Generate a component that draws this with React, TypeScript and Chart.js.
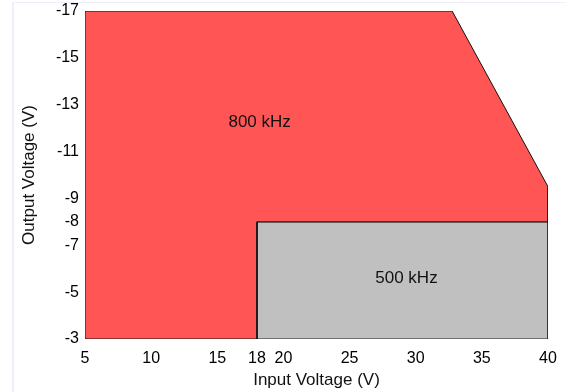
import React, { useEffect, useRef } from "react";
import { Chart, registerables } from "chart.js";

Chart.register(...registerables);

// Region polygons (Input Voltage, Output Voltage)
const region800X = [5, 5, 32.75, 40, 40, 18, 18, 5];
const region800Y = [-3, -17, -17, -9.5, -8, -8, -3, -3];
const region500X = [18, 18, 40, 40, 18];
const region500Y = [-3, -8, -8, -3, -3];

const xTicks = [5, 10, 15, 18, 20, 25, 30, 35, 40];
const yTicks = [-17, -15, -13, -11, -9, -8, -7, -5, -3];

const regionLabels = ["800 kHz", "500 kHz"];
const regionLabelX = [18.2, 29.3];
const regionLabelY = [-12.25, -5.58];

const FONT = "'Liberation Sans', Arial, sans-serif";

const labelPlugin = {
  id: "regionLabels",
  afterDatasetsDraw(chart: any) {
    const { ctx, scales } = chart;
    ctx.save();
    ctx.font = `17px ${FONT}`;
    ctx.fillStyle = "#111";
    ctx.textAlign = "center";
    ctx.textBaseline = "middle";
    regionLabels.forEach((t, i) => {
      ctx.fillText(t, scales.x.getPixelForValue(regionLabelX[i]), scales.y.getPixelForValue(regionLabelY[i]));
    });
    ctx.restore();
  },
};

export default function App() {
  const ref = useRef<HTMLCanvasElement>(null);
  useEffect(() => {
    const toPts = (xs: number[], ys: number[]) => xs.map((x, i) => ({ x, y: ys[i] }));
    const chart = new Chart(ref.current!, {
      type: "scatter",
      data: {
        datasets: [
          {
            data: toPts(region800X, region800Y),
            showLine: true,
            fill: "shape",
            backgroundColor: "#FF5555",
            borderColor: "#111",
            borderWidth: 1,
            pointRadius: 0,
            tension: 0,
          },
          {
            data: toPts(region500X, region500Y),
            showLine: true,
            fill: "shape",
            backgroundColor: "#C0C0C0",
            borderColor: "#222",
            borderWidth: 1,
            pointRadius: 0,
            tension: 0,
          },
        ],
      },
      options: {
        responsive: false,
        animation: false,
        devicePixelRatio: 1,
        layout: { padding: { top: 11, right: 18, left: 0, bottom: 0 } },
        plugins: { legend: { display: false }, tooltip: { enabled: false } },
        scales: {
          x: {
            type: "linear",
            min: 5,
            max: 40,
            grid: { display: false, drawTicks: false },
            border: { display: false },
            ticks: { font: { size: 16, family: FONT }, color: "#000", padding: 10, maxRotation: 0 },
            afterBuildTicks: (s: any) => {
              s.ticks = xTicks.map((v) => ({ value: v }));
            },
            afterFit: (s: any) => {
              s.height = 53;
              s.paddingLeft = 0;
              s.paddingRight = 0;
            },
            title: { display: true, text: "Input Voltage (V)", font: { size: 17, family: FONT }, color: "#111", padding: { top: 0, bottom: 1 } },
          },
          y: {
            type: "linear",
            min: -17,
            max: -3,
            reverse: true,
            grid: { display: false, drawTicks: false },
            border: { display: false },
            ticks: { font: { size: 16, family: FONT }, color: "#000", padding: 6 },
            afterBuildTicks: (s: any) => {
              s.ticks = yTicks.map((v) => ({ value: v }));
            },
            afterFit: (s: any) => {
              s.width = 85;
              s.paddingTop = 0;
              s.paddingBottom = 0;
            },
            title: { display: true, text: "Output Voltage (V)", font: { size: 17, family: FONT }, color: "#111", padding: { top: 19, bottom: 0 } },
          },
        },
      },
      plugins: [labelPlugin],
    });
    return () => chart.destroy();
  }, []);
  return (
    <div style={{ position: "absolute", left: 0, top: 0, width: 566, height: 392, background: "#fff" }}>
      <div style={{ position: "absolute", left: 12, top: 2, right: 0, bottom: 0, borderLeft: "2px solid #edf1f7", borderTop: "1px solid #edf1f7" }} />
      <canvas ref={ref} width={566} height={392} style={{ position: "absolute", left: 0, top: 0 }} />
    </div>
  );
}
